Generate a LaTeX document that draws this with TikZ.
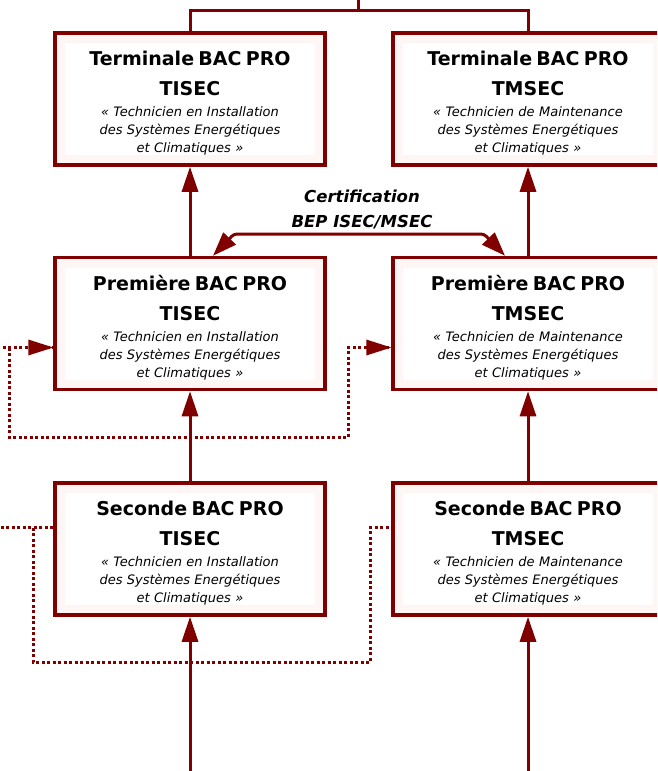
\documentclass[tikz,border=0pt]{standalone}
\usepackage{fontspec}
\setmainfont{DejaVu Sans}
\usetikzlibrary{arrows.meta,calc}
\definecolor{dred}{RGB}{128,0,0}
\definecolor{rim}{RGB}{254,245,245}
\newcommand{\ttlfont}{\fontsize{19}{18}\selectfont\bfseries\upshape}
\newcommand{\topstrut}{\rule{0pt}{23pt}}
\tikzset{
  x=1pt, y=1pt,
  box/.style={draw=dred, line width=3.5pt, fill=rim, minimum width=270, minimum height=132,
    inner sep=0pt, align=center, text width=262,
    font=\fontsize{13}{18}\selectfont\itshape,
    path picture={\fill[white] ($(path picture bounding box.south west)+(10,10)$) rectangle ($(path picture bounding box.north east)-(10,10)$);}},
  conn/.style={draw=dred, line width=3pt},
  arr/.style={conn, -{Triangle[length=25pt, width=16pt]}},
  darr/.style={conn, {Triangle[length=24pt, width=17pt]}-{Triangle[length=24pt, width=17pt]}, rounded corners=3pt},
  dotl/.style={draw=dred, line width=3pt, dash pattern=on 3pt off 2.5pt},
  cert/.style={align=center, inner sep=0pt, font=\fontsize{16.5}{25}\selectfont\bfseries\itshape}
}
\begin{document}
\begin{tikzpicture}
\path[use as bounding box] (0,0) rectangle (657,-771);
\clip (0,0) rectangle (657,-771);

% boxes
\node[box] (t1) at (190,-99) {\topstrut{\ttlfont Terminale BAC PRO}\\[12pt]{\ttlfont TISEC}\\[3pt]« Technicien en Installation\\des Systèmes Energétiques\\et Climatiques »};
\node[box] (t2) at (528,-99) {\topstrut{\ttlfont Terminale BAC PRO}\\[12pt]{\ttlfont TMSEC}\\[3pt]« Technicien de Maintenance\\des Systèmes Energétiques\\et Climatiques »};
\node[box] (p1) at (190,-323.5) {\topstrut{\ttlfont Première BAC PRO}\\[12pt]{\ttlfont TISEC}\\[3pt]« Technicien en Installation\\des Systèmes Energétiques\\et Climatiques »};
\node[box] (p2) at (528,-323.5) {\topstrut{\ttlfont Première BAC PRO}\\[12pt]{\ttlfont TMSEC}\\[3pt]« Technicien de Maintenance\\des Systèmes Energétiques\\et Climatiques »};
\node[box] (s1) at (190,-549) {\topstrut{\ttlfont Seconde BAC PRO}\\[12pt]{\ttlfont TISEC}\\[3pt]« Technicien en Installation\\des Systèmes Energétiques\\et Climatiques »};
\node[box] (s2) at (528,-549) {\topstrut{\ttlfont Seconde BAC PRO}\\[12pt]{\ttlfont TMSEC}\\[3pt]« Technicien de Maintenance\\des Systèmes Energétiques\\et Climatiques »};

% top fork
\coordinate (top) at (358,2);
\coordinate (tj) at (358,-10);
\draw[conn] (top) -- (tj) -| (t1.north);
\draw[conn] (tj) -| (t2.north);

% vertical arrows
\draw[arr] (p1.north) -- (t1.south);
\draw[arr] (p2.north) -- (t2.south);
\draw[arr] (s1.north) -- (p1.south);
\draw[arr] (s2.north) -- (p2.south);
\coordinate (b1) at (190,-775);
\coordinate (b2) at (528,-775);
\draw[arr] (b1) -- (s1.south);
\draw[arr] (b2) -- (s2.south);

% certification
\node[cert] (cert) at (362,-209) {Certification\\BEP ISEC/MSEC};
\coordinate (c1) at (234,-234);
\coordinate (c2) at (484,-234);
\draw[darr] ($(p1.north)+(23,0)$) -- (c1) -- (c2) -- ($(p2.north)+(-23,0)$);

% dotted: into Premiere boxes
\coordinate (pa1) at ($(p1.west)+(0,-24)$);
\coordinate (pa2) at ($(p2.west)+(0,-24)$);
\coordinate (pin) at (-3,-347.5);
\coordinate (pj) at (9,-347.5);
\draw[dotl] (pin) -- (pa1);
\draw[dotl] (pj) -- (9,-437) -| (348,-347.5) -- (pa2);
\fill[dred] (pa1) -- ++(-25,8) -- ++(0,-16) -- cycle;
\fill[dred] (pa2) -- ++(-25,8) -- ++(0,-16) -- cycle;

% dotted: out of Seconde boxes
\coordinate (sa1) at ($(s1.west)+(0,21.5)$);
\coordinate (sa2) at ($(s2.west)+(0,21.5)$);
\coordinate (sout) at (-3,-527.5);
\coordinate (sj) at (33,-527.5);
\draw[dotl] (sa1) -- (sout);
\draw[dotl] (sj) -- (33,-662) -| (370,-527.5) -- (sa2);
\end{tikzpicture}
\end{document}
